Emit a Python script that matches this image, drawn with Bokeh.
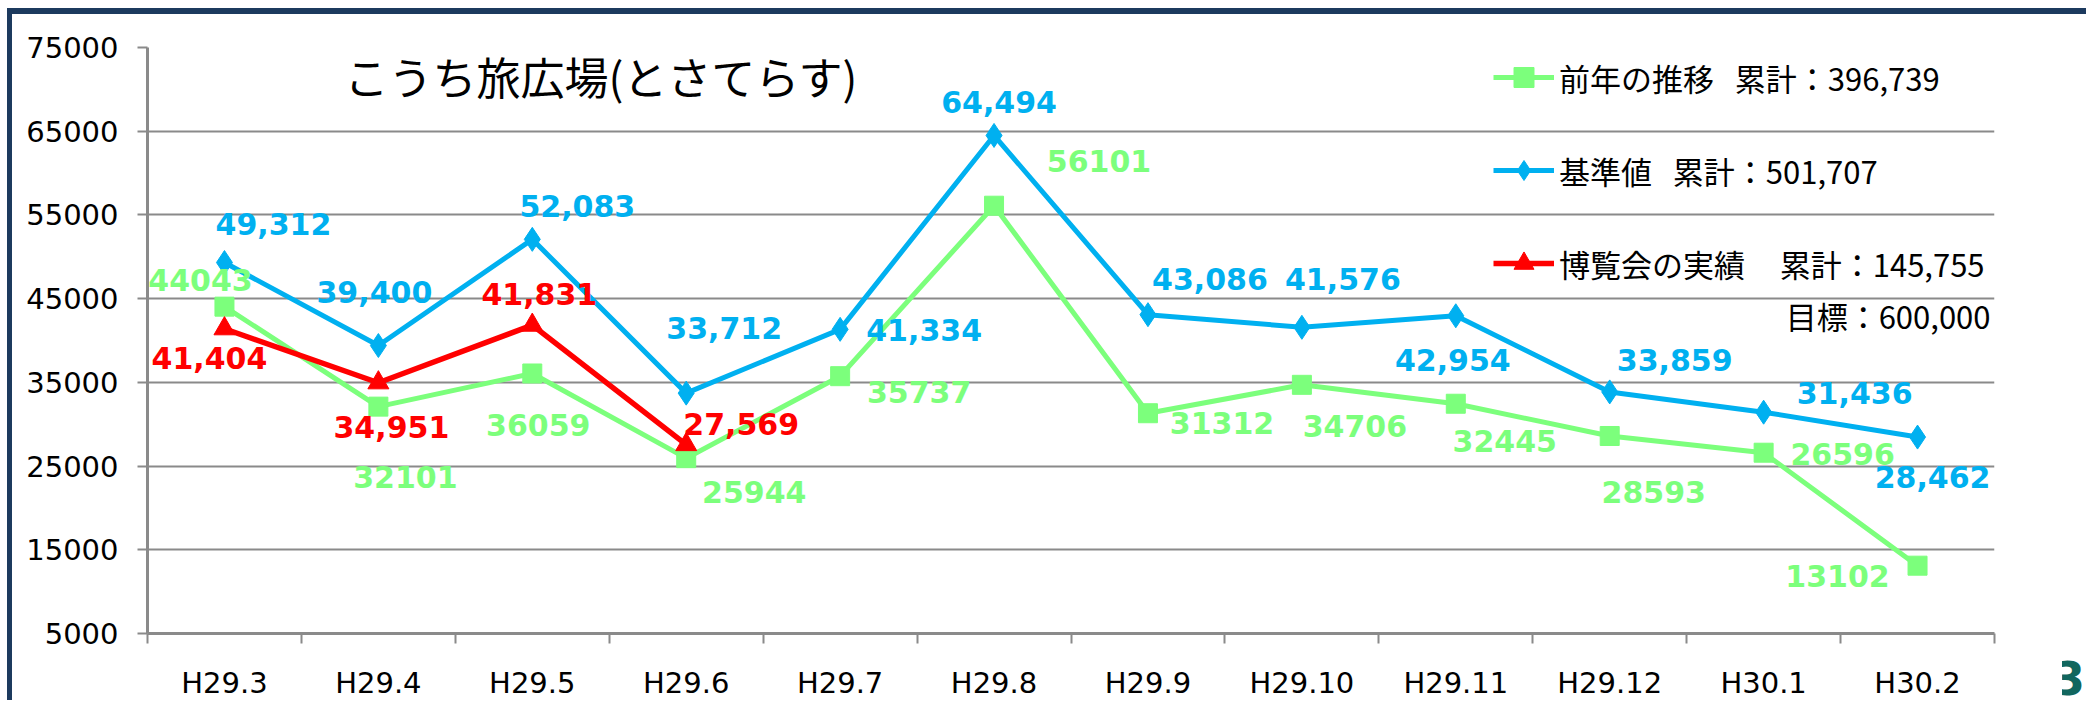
from bokeh.plotting import figure
from bokeh.layouts import row
from bokeh.models import (ColumnDataSource, Range1d, FixedTicker, Legend, LegendItem, Label,
                          LabelSet)
from bokeh.core.properties import value
from bokeh.embed import file_html
from bokeh.resources import INLINE

# ---------------- data ----------------
months = ["H29.3", "H29.4", "H29.5", "H29.6", "H29.7", "H29.8",
          "H29.9", "H29.10", "H29.11", "H29.12", "H30.1", "H30.2"]
prev_year = [44043, 32101, 36059, 25944, 35737, 56101,
             31312, 34706, 32445, 28593, 26596, 13102]
baseline = [49312, 39400, 52083, 33712, 41334, 64494,
            43086, 41576, 42954, 33859, 31436, 28462]
expo = [41404, 34951, 41831, 27569]

y_ticks = [5000, 15000, 25000, 35000, 45000, 55000, 65000, 75000]

title_text = "こうち旅広場(とさてらす)"
legend_prev = "前年の推移   累計：396,739"
legend_base = "基準値   累計：501,707"
legend_expo = "博覧会の実績     累計：145,755"
target_text = "目標：600,000"
page_no = "3"

# data-label placement offsets (screen px, +dy = downwards)
prev_dx = [-24, 27, 6, 68, 79, 105, 74, 53, 49, 44, 79, -80]
prev_dy = [-27, 70, 52, 34, 16, -45, 10, 41, 37, 56, 1, 10]
base_dx = [49, -4, 45, 38, 84, 5, 62, 41, -3, 65, 91, 15]
base_dy = [-39, -54, -33, -65, 1, -33, -36, -48, 44, -32, -19, 40]
expo_dx = [-15, 13, 7, 55]
expo_dy = [29, 44, -31, -21]

GREEN = "#7CFF7C"
BLUE = "#00B0F0"
RED = "#FF0000"
GRID = "#8A8A8A"
FRAME = "#1C3A5E"

W, H = 2050, 692      # main chart canvas
W_PAGE = 29           # narrow strip holding the page number

xs = [i + 0.5 for i in range(len(months))]


def make_src(xv, yv, labels, dx, dy):
    return ColumnDataSource(dict(x=xv, y=yv, label=labels, dx=dx,
                                 up=[-d for d in dy]))


src_prev = make_src(xs, prev_year, [str(v) for v in prev_year], prev_dx, prev_dy)
src_base = make_src(xs, baseline, [f"{v:,}" for v in baseline], base_dx, base_dy)
src_expo = make_src(xs[:len(expo)], expo, [f"{v:,}" for v in expo], expo_dx, expo_dy)

p = figure(width=W, height=H,
           x_range=Range1d(0, len(months)), y_range=Range1d(y_ticks[0], y_ticks[-1]),
           output_backend="svg", toolbar_location=None,
           min_border_left=135, min_border_right=W - 1982, min_border_top=33,
           min_border_bottom=H - 619,
           outline_line_color=None, background_fill_color="white", border_fill_color="white")

# axes
p.xaxis.ticker = FixedTicker(ticks=xs, minor_ticks=list(range(len(months) + 1)))
p.xaxis.major_label_overrides = {x: m for x, m in zip(xs, months)}
p.xaxis.major_tick_line_color = None
p.xaxis.major_tick_out = 10
p.xaxis.minor_tick_in = 0
p.xaxis.minor_tick_out = 10
p.xaxis.minor_tick_line_color = GRID
p.xaxis.minor_tick_line_width = 2
p.xaxis.major_label_standoff = 22

p.yaxis.ticker = FixedTicker(ticks=y_ticks)
p.yaxis.major_tick_in = 0
p.yaxis.major_tick_out = 10
p.yaxis.major_tick_line_color = GRID
p.yaxis.major_tick_line_width = 2
p.yaxis.minor_tick_line_color = None
p.yaxis.major_label_standoff = 19

for ax in (p.xaxis, p.yaxis):
    ax.axis_line_color = GRID
    ax.axis_line_width = 3
    ax.major_label_text_font = "DejaVu Sans"
    ax.major_label_text_font_size = "29px"
    ax.major_label_text_color = "black"

p.xgrid.grid_line_color = None
p.ygrid.ticker = FixedTicker(ticks=y_ticks)
p.ygrid.grid_line_color = GRID
p.ygrid.grid_line_width = 2

# series
gl = p.line("x", "y", source=src_prev, line_width=5, line_color=GREEN)
gs = p.scatter("x", "y", source=src_prev, marker="square", size=19,
               fill_color=GREEN, line_color=GREEN)
bl = p.line("x", "y", source=src_base, line_width=5, line_color=BLUE)
bs = p.scatter("x", "y", source=src_base, marker="diamond", size=24,
               fill_color=BLUE, line_color=BLUE)
rl = p.line("x", "y", source=src_expo, line_width=5.5, line_color=RED)
rs = p.scatter("x", "y", source=src_expo, marker="triangle", size=21,
               fill_color=RED, line_color=RED)

# data labels
for src, col in ((src_prev, GREEN), (src_base, BLUE), (src_expo, RED)):
    p.add_layout(LabelSet(x="x", y="y", text="label", source=src,
                          x_offset="dx", y_offset="up",
                          text_font=value("DejaVu Sans"), text_font_style="bold",
                          text_font_size="30px", text_color=col,
                          text_align="center", text_baseline="middle"))

# legend
legend = Legend(items=[LegendItem(label=legend_prev, renderers=[gl, gs]),
                       LegendItem(label=legend_base, renderers=[bl, bs]),
                       LegendItem(label=legend_expo, renderers=[rl, rs])],
                location=(1346, 345), orientation="vertical",
                glyph_width=61, glyph_height=50, label_height=50, spacing=43,
                padding=0, margin=0, label_standoff=5,
                label_text_font="Noto Sans CJK JP", label_text_font_size="31px",
                label_text_color="black", label_text_baseline="middle",
                border_line_color=None, background_fill_alpha=0)
p.add_layout(legend)

p.add_layout(Label(x=197, y=558, x_units="screen", y_units="screen", text=title_text,
                   text_font="Noto Sans CJK JP", text_font_size="44px", text_color="black",
                   text_baseline="middle", text_align="left"))
p.add_layout(Label(x=1843, y=318, x_units="screen", y_units="screen", text=target_text,
                   text_font="Noto Sans CJK JP", text_font_size="31px", text_color="black",
                   text_baseline="middle", text_align="right"))

# narrow strip on the right for the slide's page number (shown as its axis label)
page_pos = 0.67
pg = figure(width=W_PAGE, height=H, x_range=Range1d(0, 1), y_range=Range1d(0, 1),
            y_axis_type=None, output_backend="svg", toolbar_location=None,
            min_border_left=0, min_border_right=0, min_border_top=33,
            min_border_bottom=H - 619, outline_line_color=None,
            background_fill_color="white", border_fill_color="white")
pg.grid.visible = False
pg.xaxis.ticker = FixedTicker(ticks=[page_pos])
pg.xaxis.major_label_overrides = {page_pos: page_no}
pg.xaxis.axis_line_color = None
pg.xaxis.major_tick_line_color = None
pg.xaxis.minor_tick_line_color = None
pg.xaxis.major_tick_in = 0
pg.xaxis.major_tick_out = 0
pg.xaxis.major_label_standoff = 27
pg.xaxis.major_label_text_font = "DejaVu Sans"
pg.xaxis.major_label_text_font_style = "bold"
pg.xaxis.major_label_text_font_size = "46px"
pg.xaxis.major_label_text_color = "#11665E"

layout = row(p, pg, spacing=0)
# slide frame: dark blue edge on the top and left of the chart area
layout.styles = {"margin-top": "14px", "margin-left": "12px",
                 "box-shadow": f"-5px -6px 0 0 {FRAME}"}

open("out.html", "w").write(file_html(layout, INLINE))
